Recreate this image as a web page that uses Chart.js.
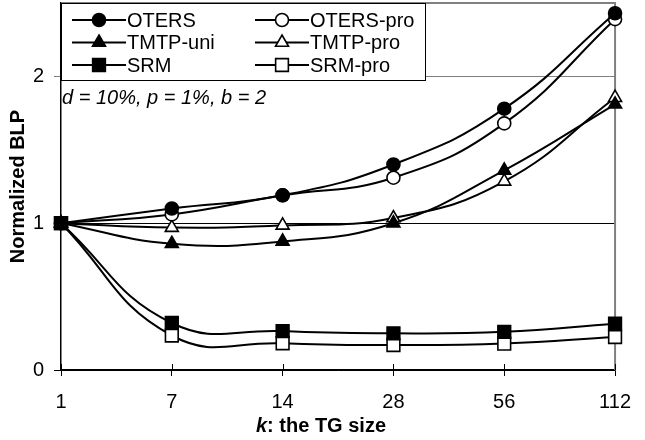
<!DOCTYPE html>
<html>
<head>
<meta charset="utf-8">
<script src="https://cdn.jsdelivr.net/npm/chart.js@4"></script>
<style>
html,body{margin:0;padding:0;background:#fff;}
#wrap{width:645px;height:440px;}
</style>
</head>
<body>
<div id="wrap"><canvas id="c" width="645" height="440"></canvas></div>
<script>
const categories = ['1', '7', '14', '28', '56', '112'];
const seriesNames = ['OTERS', 'OTERS-pro', 'TMTP-uni', 'TMTP-pro', 'SRM', 'SRM-pro'];
const oters    = [1, 1.10, 1.19, 1.40, 1.78, 2.43];
const otersPro = [1, 1.06, 1.19, 1.31, 1.68, 2.39];
const tmtpUni  = [1, 0.86, 0.876, 1.00, 1.36, 1.81];
const tmtpPro  = [1, 0.97, 0.985, 1.035, 1.285, 1.855];
const srm      = [1, 0.32, 0.265, 0.25, 0.26, 0.315];
const srmPro   = [1, 0.235, 0.182, 0.17, 0.18, 0.225];
const yTicks = [0, 1, 2];
const annotationText = 'd = 10%, p = 1%, b = 2';
const xTitleBold = 'k';
const xTitleRest = ': the TG size';
const yTitle = 'Normalized BLP';

const FONT = '"Liberation Sans", Arial, sans-serif';

function ds(label, data, style, filled, radius) {
  return {
    label, data,
    borderColor: '#000', borderWidth: 2,
    pointStyle: style, pointRadius: radius, pointHoverRadius: radius,
    pointBackgroundColor: filled ? '#000' : '#fff',
    pointBorderColor: '#000', pointBorderWidth: 1.6,
    tension: 0.45, fill: false, clip: false
  };
}

const datasets = [
  ds(seriesNames[0], oters, 'circle', true, 6.5),
  ds(seriesNames[1], otersPro, 'circle', false, 6.5),
  ds(seriesNames[2], tmtpUni, 'triangle', true, 7.5),
  ds(seriesNames[3], tmtpPro, 'triangle', false, 7.5),
  ds(seriesNames[4], srm, 'rect', true, 9),
  ds(seriesNames[5], srmPro, 'rect', false, 9)
];

const framePlugin = {
  id: 'frame',
  beforeDatasetsDraw(chart) {
    const {ctx, chartArea: a} = chart;
    ctx.save();
    ctx.strokeStyle = '#808080';
    ctx.lineWidth = 2;
    ctx.beginPath();
    ctx.moveTo(a.left, a.top);
    ctx.lineTo(a.right, a.top);
    ctx.lineTo(a.right, a.bottom);
    ctx.stroke();
    // inner half of x tick marks
    const xs = chart.scales.x;
    ctx.strokeStyle = '#000';
    ctx.lineWidth = 1;
    xs.ticks.forEach((t, i) => {
      const px = Math.round(xs.getPixelForTick(i)) + 0.5;
      ctx.beginPath();
      ctx.moveTo(px, a.bottom);
      ctx.lineTo(px, a.bottom - 6);
      ctx.stroke();
    });
    ctx.restore();
  },
  afterDatasetsDraw(chart) {
    const {ctx, chartArea: a} = chart;
    ctx.save();
    // legend box
    const bx = a.left + 0.5, by = a.top + 0.5, bw = 364, bh = 77;
    ctx.fillStyle = '#fff';
    ctx.fillRect(bx, by, bw, bh);
    ctx.strokeStyle = '#000';
    ctx.lineWidth = 1;
    ctx.strokeRect(bx, by, bw, bh);
    const cols = [a.left + 11, a.left + 194];
    const rowY = [a.top + 17, a.top + 39.5, a.top + 62];
    ctx.font = '20px ' + FONT;
    ctx.textBaseline = 'middle';
    ctx.textAlign = 'left';
    chart.data.datasets.forEach((d, i) => {
      const x0 = cols[i % 2], y0 = rowY[Math.floor(i / 2)];
      ctx.strokeStyle = '#000';
      ctx.lineWidth = 2;
      ctx.beginPath();
      ctx.moveTo(x0, y0);
      ctx.lineTo(x0 + 54, y0);
      ctx.stroke();
      ctx.fillStyle = d.pointBackgroundColor;
      ctx.strokeStyle = '#000';
      ctx.lineWidth = 1.6;
      Chart.helpers.drawPoint(ctx, {pointStyle: d.pointStyle, rotation: 0, radius: d.pointRadius, borderWidth: 1.6}, x0 + 27, y0);
      ctx.fillStyle = '#000';
      ctx.fillText(d.label, x0 + 55, y0 + 1);
    });
    // annotation
    ctx.font = 'italic 20px ' + FONT;
    ctx.fillText(annotationText, a.left + 1, a.top + 95);
    // x title
    ctx.textBaseline = 'middle';
    ctx.font = 'bold italic 20px ' + FONT;
    const w1 = ctx.measureText(xTitleBold).width;
    ctx.font = 'bold 20px ' + FONT;
    const w2 = ctx.measureText(xTitleRest).width;
    const cx = 321;
    const sx = cx - (w1 + w2) / 2;
    const ty = 426;
    ctx.font = 'bold italic 20px ' + FONT;
    ctx.fillText(xTitleBold, sx, ty);
    ctx.font = 'bold 20px ' + FONT;
    ctx.fillText(xTitleRest, sx + w1, ty);
    ctx.restore();
  }
};

new Chart(document.getElementById('c'), {
  type: 'line',
  data: { labels: categories, datasets },
  options: {
    responsive: false,
    devicePixelRatio: 1,
    animation: false,
    layout: { autoPadding: false, padding: { top: 3, right: 28, left: 0, bottom: 0 } },
    plugins: { legend: { display: false }, tooltip: { enabled: false } },
    scales: {
      x: {
        type: 'category',
        offset: false,
        afterFit(s) { s.height = 70; },
        grid: { drawOnChartArea: false, drawTicks: true, tickLength: 6, color: '#000', lineWidth: 1 },
        border: { color: '#000', width: 1.5 },
        ticks: { color: '#000', font: { family: FONT, size: 20 }, padding: 14, maxRotation: 0, autoSkip: false }
      },
      y: {
        min: 0, max: 2.5,
        afterFit(s) { s.width = 61; s.paddingTop = 0; s.paddingBottom = 0; },
        afterBuildTicks(s) { s.ticks = yTicks.map(v => ({ value: v })); },
        grid: {
          color: c => (c.tick && c.tick.value === 2) ? '#808080' : '#000',
          lineWidth: 1, tickLength: 7, drawTicks: true
        },
        border: { color: '#000', width: 1.5 },
        ticks: { color: '#000', font: { family: FONT, size: 20 }, padding: 10, stepSize: 1 },
        title: { display: true, text: yTitle, color: '#000', font: { family: FONT, size: 20, weight: 'bold' }, padding: { top: 6, bottom: 0 } }
      }
    }
  },
  plugins: [framePlugin]
});
</script>
</body>
</html>
